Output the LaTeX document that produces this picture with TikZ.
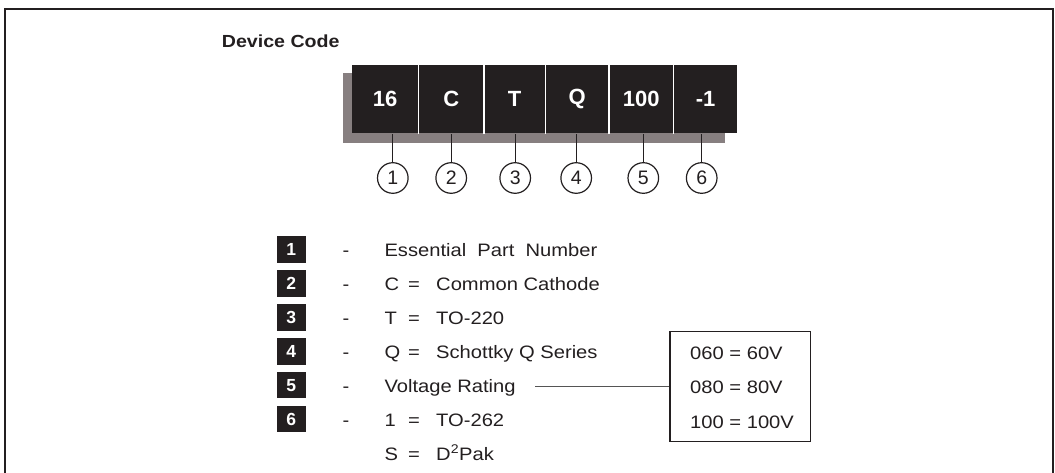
\documentclass[tikz,border=0pt]{standalone}
\usepackage{fontspec}
\setmainfont[FakeStretch=1.12]{Liberation Sans}
\newfontfamily\codefont{Liberation Sans}
\definecolor{ink}{HTML}{231F20}
\definecolor{shadowgrey}{HTML}{877F80}
\definecolor{gline}{HTML}{555555}
\tikzset{
  txt/.style={inner sep=0pt, anchor=base west, text=ink, font=\fontsize{18}{21}\selectfont},
  dashtxt/.style={inner sep=0pt, anchor=base, text=ink, font=\fontsize{18}{21}\selectfont},
  cell/.style={fill=ink, inner sep=0pt, minimum height=68.3, anchor=north west, text=white, font=\codefont\bfseries\fontsize{22}{25}\selectfont},
  numc/.style={circle, draw=ink, line width=1.2pt, minimum size=30.6, inner sep=0pt, text=ink, font=\codefont\fontsize{19.5}{21}\selectfont},
  nbox/.style={fill=ink, minimum width=29.3, minimum height=26.7, inner sep=0pt, text=white, font=\codefont\bfseries\fontsize{17.5}{19}\selectfont},
  conn/.style={draw=ink, line width=1.2pt},
  sep/.style={draw=white, line width=1.3pt},
  frame/.style={draw=ink, line width=2pt},
}
\begin{document}
\begin{tikzpicture}[x=1pt, y=-1pt]
\useasboundingbox (0,0) rectangle (1055,473);
\fill[white] (0,0) rectangle (1055,473);
% frame
\draw[frame] (4.5,473) -- (4.5,9) -- (1053,9) -- (1053,473);
% title
\node[txt, font=\bfseries\fontsize{17.5}{20}\selectfont] (dc) at (221.7,48) {Device Code};
% shadow
\fill[fill=shadowgrey] (342.7,72.7) rectangle (725,143.3);
% code cells
\node[cell, minimum width=66.6] (c1) at (351.7,65) {16};
\node[cell, minimum width=65.0] (c2) at (c1.north east) {C};
\node[cell, minimum width=60.7] (c3) at (c2.north east) {T};
\node[cell, minimum width=63.3] (c4) at (c3.north east) {Q};
\node[cell, minimum width=64.4] (c5) at (c4.north east) {100};
\node[cell, minimum width=63.3] (c6) at (c5.north east) {-1};
\foreach \i in {1,...,5} \draw[sep] (c\i.north east) -- (c\i.south east);
% circles
\node[numc] (k1) at (392.8,178) {1};
\node[numc] (k2) at (451.2,178) {2};
\node[numc] (k3) at (515.2,178) {3};
\node[numc] (k4) at (576.2,178) {4};
\node[numc] (k5) at (643.3,178) {5};
\node[numc] (k6) at (701.7,178) {6};
\draw[conn] (k1.north) -- (k1.north |- c1.south);
\draw[conn] (k2.north) -- (k2.north |- c2.south);
\draw[conn] (k3.north) -- (k3.north |- c3.south);
\draw[conn] (k4.north) -- (k4.north |- c4.south);
\draw[conn] (k5.north) -- (k5.north |- c5.south);
\draw[conn] (k6.north) -- (k6.north |- c6.south);
% legend
\node[nbox] (b1) at (291.3,249.5) {1};
\node[nbox] (b2) at (291.3,283.4) {2};
\node[nbox] (b3) at (291.3,317.3) {3};
\node[nbox] (b4) at (291.3,351.2) {4};
\node[nbox] (b5) at (291.3,385.1) {5};
\node[nbox] (b6) at (291.3,419.0) {6};
\node[dashtxt] (d1) at (346,256.7) {-};
\node[dashtxt] (d2) at (346,290.6) {-};
\node[dashtxt] (d3) at (346,324.5) {-};
\node[dashtxt] (d4) at (346,358.4) {-};
\node[dashtxt] (d5) at (346,392.3) {-};
\node[dashtxt] (d6) at (346,426.2) {-};
\node[txt] (l1) at (384.3,256.7) {Essential\ \ Part\ \ Number};
\node[txt] (k2a) at (384.3,290.6) {C};
\node[txt] (e2) at (408,290.6) {=};
\node[txt] (v2) at (436,290.6) {Common Cathode};
\node[txt] (k3a) at (384.3,324.5) {T};
\node[txt] (e3) at (408,324.5) {=};
\node[txt] (v3) at (436,324.5) {TO-220};
\node[txt] (k4a) at (384.3,358.4) {Q};
\node[txt] (e4) at (408,358.4) {=};
\node[txt] (v4) at (436,358.4) {Schottky Q Series};
\node[txt] (l5) at (384.3,392.3) {Voltage Rating};
\node[txt] (k6a) at (384.3,426.2) {1};
\node[txt] (e6) at (408,426.2) {=};
\node[txt] (v6) at (436,426.2) {TO-262};
\node[txt] (k7a) at (384.3,460.1) {S};
\node[txt] (e7) at (408,460.1) {=};
\node[txt] (v7) at (436,460.1) {D\textsuperscript{2}Pak};
% voltage box
\node[draw=ink, line width=1.2pt, minimum width=140.7, minimum height=109.7, inner sep=0pt, anchor=north west] (vbox) at (669.3,331) {};
\node[txt] (o1) at (690,359.3) {060 = 60V};
\node[txt] (o2) at (690,393.3) {080 = 80V};
\node[txt] (o3) at (690,428.3) {100 = 100V};
\coordinate (vs) at (535,386.5);
\draw[draw=gline, line width=1.3pt] (vs) -- (vs -| vbox.west);
\end{tikzpicture}
\end{document}
